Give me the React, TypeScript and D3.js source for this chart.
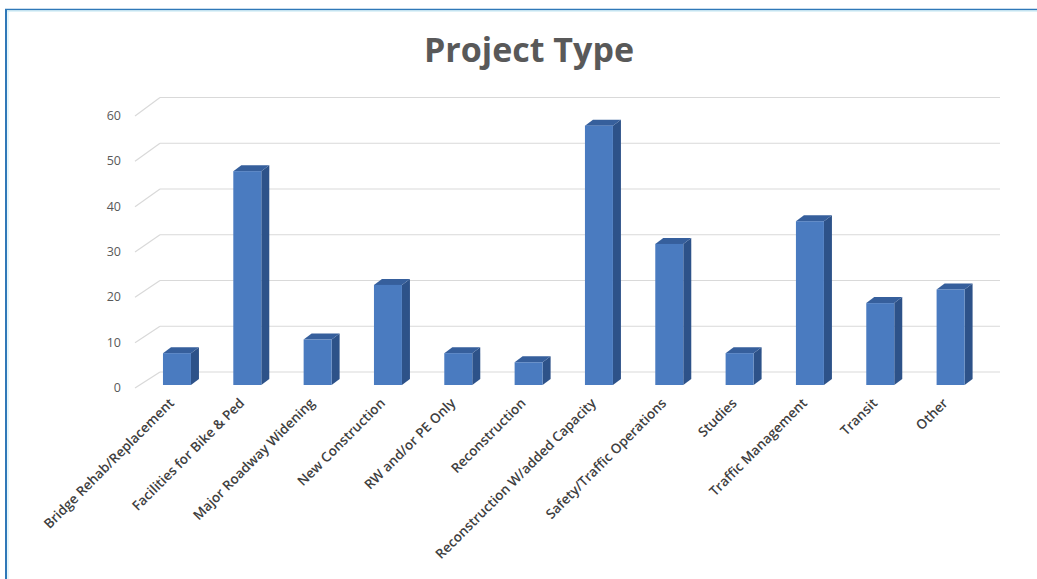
import React from "react";
import * as d3 from "d3";

const categories = [
  "Bridge Rehab/Replacement",
  "Facilities for Bike & Ped",
  "Major Roadway Widening",
  "New Construction",
  "RW and/or PE Only",
  "Reconstruction",
  "Reconstruction W/added Capacity",
  "Safety/Traffic Operations",
  "Studies",
  "Traffic Management",
  "Transit",
  "Other",
];
const values = [7, 47, 10, 22, 7, 5, 57, 31, 7, 36, 18, 21];
const yTicks = [0, 10, 20, 30, 40, 50, 60];
const title = "Project Type";

const W = 1037;
const H = 579;

export default function App() {
  const x = d3
    .scaleBand<string>()
    .domain(categories)
    .range([141.8, 141.8 + 12 * 70.33])
    .paddingInner(0.602)
    .paddingOuter(0.301);
  const yBar = d3.scaleLinear().domain([0, 60]).range([385, 112]);
  const yBack = d3.scaleLinear().domain([0, 60]).range([372, 97.5]);
  const yFront = d3.scaleLinear().domain([0, 60]).range([388, 116]);
  const dx = 8;
  const dy = 6;
  const bw = x.bandwidth();
  const base = yBar(0);
  const font = "'Open Sans', 'DejaVu Sans', sans-serif";

  return (
    <div style={{ position: "absolute", left: 0, top: 0, width: W, height: H }}>
      <svg width={W} height={H} style={{ display: "block", background: "#ffffff" }}>
        {/* frame */}
        <line x1={5} y1={9.5} x2={W} y2={9.5} stroke="#2f78b8" strokeWidth={1.6} />
        <line x1={5} y1={11} x2={W} y2={11} stroke="#bfe6f2" strokeWidth={1} />
        <line x1={6} y1={9} x2={6} y2={H} stroke="#2f78b8" strokeWidth={2} />
        <line x1={8} y1={10} x2={8} y2={H} stroke="#cdeef7" strokeWidth={1} />

        <text
          x={529}
          y={62}
          textAnchor="middle"
          fontFamily={font}
          fontWeight={700}
          fontSize={34}
          fill="#595959"
        >
          {title}
        </text>

        {/* gridlines */}
        {yTicks.map((t) => (
          <g key={t}>
            <line x1={135} y1={yFront(t)} x2={160} y2={yBack(t)} stroke="#d9d9d9" strokeWidth={1.2} />
            <line x1={160} y1={yBack(t)} x2={1000} y2={yBack(t)} stroke="#d9d9d9" strokeWidth={1.2} />
            <text
              x={121}
              y={yFront(t) + 4}
              textAnchor="end"
              fontFamily={font}
              fontSize={12.5}
              fill="#595959"
            >
              {t}
            </text>
          </g>
        ))}

        {/* bars */}
        {categories.map((c, i) => {
          const x0 = x(c) as number;
          const yt = yBar(values[i]);
          return (
            <g key={c}>
              <polygon
                points={`${x0 + bw},${yt} ${x0 + bw + dx},${yt - dy} ${x0 + bw + dx},${base - dy} ${x0 + bw},${base}`}
                fill="#2d5289"
              />
              <polygon
                points={`${x0},${yt} ${x0 + dx},${yt - dy} ${x0 + bw + dx},${yt - dy} ${x0 + bw},${yt}`}
                fill="#365f9c"
              />
              <rect x={x0} y={yt} width={bw} height={base - yt} fill="#4a7bc0" />
            </g>
          );
        })}

        {/* x labels */}
        {categories.map((c) => {
          const cx = (x(c) as number) + bw / 2 - 2;
          const cy = 404;
          return (
            <text
              key={c}
              x={cx}
              y={cy}
              textAnchor="end"
              transform={`rotate(-45, ${cx}, ${cy})`}
              fontFamily={font}
              fontWeight={600}
              fontSize={13.5}
              fill="#404040"
            >
              {c}
            </text>
          );
        })}
      </svg>
    </div>
  );
}
